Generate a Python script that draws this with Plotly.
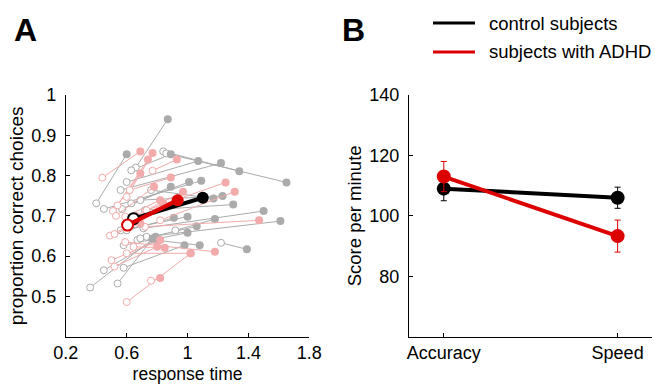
import plotly.graph_objects as go

# ---------------- Panel A data (per subject: start = open, end = filled) -------------
ctrl_rt_start = [0.40, 0.66, 0.84, 0.86, 0.60, 0.63, 0.56, 0.63, 0.45, 0.57, 0.76, 0.69, 0.72,
                 0.71, 0.73, 0.60, 0.56, 0.67, 0.92, 0.58, 0.69, 1.22, 0.58, 0.45, 0.36, 0.54]
ctrl_acc_start = [0.731, 0.820, 0.860, 0.855, 0.784, 0.813, 0.764, 0.731, 0.717, 0.717, 0.764, 0.739, 0.714,
                  0.669, 0.648, 0.664, 0.664, 0.640, 0.664, 0.627, 0.644, 0.633, 0.571, 0.565, 0.522, 0.532]
ctrl_rt_end = [0.60, 0.87, 1.34, 1.65, 1.07, 0.89, 1.22, 1.01, 1.09, 0.89, 1.17, 1.23, 1.30,
               1.50, 1.61, 0.91, 1.00, 1.06, 1.18, 1.00, 1.08, 1.39, 0.98, 0.79, 0.79, 0.77]
ctrl_acc_end = [0.853, 0.940, 0.811, 0.783, 0.836, 0.853, 0.831, 0.784, 0.787, 0.772, 0.743, 0.749, 0.728,
                0.712, 0.687, 0.695, 0.698, 0.674, 0.692, 0.658, 0.627, 0.617, 0.627, 0.640, 0.648, 0.644]

adhd_rt_start = [0.44, 0.77, 0.60, 0.54, 0.51, 0.62, 0.59, 0.73, 0.82, 0.49, 0.52, 0.72, 0.59,
                 0.60, 0.645, 0.50, 0.52, 0.60, 0.76, 0.61, 0.53, 0.66]
adhd_acc_start = [0.795, 0.812, 0.747, 0.726, 0.712, 0.764, 0.698, 0.714, 0.689, 0.651, 0.655, 0.673, 0.635,
                  0.607, 0.623, 0.590, 0.574, 0.486, 0.539, 0.673, 0.700, 0.700]
adhd_rt_end = [0.69, 0.93, 0.77, 0.74, 0.69, 0.89, 0.82, 1.25, 1.31, 0.93, 0.69, 1.47, 1.18,
               1.02, 0.85, 0.82, 0.80, 1.02, 0.82, 0.84, 0.78, 0.97]
adhd_acc_end = [0.860, 0.840, 0.856, 0.840, 0.805, 0.795, 0.739, 0.783, 0.760, 0.739, 0.681, 0.689, 0.611,
                0.607, 0.621, 0.640, 0.623, 0.607, 0.546, 0.731, 0.772, 0.760]

mean_ctrl_rt = [0.645, 1.10]
mean_ctrl_acc = [0.693, 0.745]
mean_adhd_rt = [0.606, 0.935]
mean_adhd_acc = [0.677, 0.739]

a_xticks = [0.2, 0.6, 1.0, 1.4, 1.8]
a_xticklabels = ["0.2", "0.6", "1", "1.4", "1.8"]
a_yticks = [0.5, 0.6, 0.7, 0.8, 0.9, 1.0]
a_yticklabels = ["0.5", "0.6", "0.7", "0.8", "0.9", "1"]

# ---------------- Panel B data -------------
conditions = ["Accuracy", "Speed"]
ctrl_score = [109.0, 106.0]
ctrl_err = [4.0, 3.5]
adhd_score = [113.0, 93.3]
adhd_err = [5.0, 5.3]
b_yticks = [80, 100, 120, 140]

GRAY = "#ABABAB"
PINK = "#F2AAAA"
RED = "#DD0000"
FONT = "Liberation Sans, Arial, Helvetica, sans-serif"

fig = go.Figure()


def segs(xs0, ys0, xs1, ys1):
    X, Y = [], []
    for a, b, c, d in zip(xs0, ys0, xs1, ys1):
        X += [a, c, None]
        Y += [b, d, None]
    return X, Y


for rs, as_, re_, ae, col in [
    (ctrl_rt_start, ctrl_acc_start, ctrl_rt_end, ctrl_acc_end, GRAY),
    (adhd_rt_start, adhd_acc_start, adhd_rt_end, adhd_acc_end, PINK),
]:
    X, Y = segs(rs, as_, re_, ae)
    fig.add_trace(go.Scatter(x=X, y=Y, mode="lines", line=dict(color=col, width=1),
                             showlegend=False, hoverinfo="skip", xaxis="x", yaxis="y"))
    fig.add_trace(go.Scatter(x=rs, y=as_, mode="markers",
                             marker=dict(size=7, color="white", line=dict(color=col, width=1)),
                             showlegend=False, xaxis="x", yaxis="y"))
    fig.add_trace(go.Scatter(x=re_, y=ae, mode="markers",
                             marker=dict(size=8, color=col, line=dict(width=0)),
                             showlegend=False, xaxis="x", yaxis="y"))

for rt, acc, col in [(mean_ctrl_rt, mean_ctrl_acc, "black"), (mean_adhd_rt, mean_adhd_acc, RED)]:
    fig.add_trace(go.Scatter(x=rt, y=acc, mode="lines", line=dict(color=col, width=4),
                             showlegend=False, xaxis="x", yaxis="y"))
    fig.add_trace(go.Scatter(x=rt[:1], y=acc[:1], mode="markers",
                             marker=dict(size=11, color="white", line=dict(color=col, width=2)),
                             showlegend=False, xaxis="x", yaxis="y"))
    fig.add_trace(go.Scatter(x=rt[1:], y=acc[1:], mode="markers",
                             marker=dict(size=12, color=col, line=dict(width=0)),
                             showlegend=False, xaxis="x", yaxis="y"))

# Panel B
for vals, errs, col, name in [(ctrl_score, ctrl_err, "black", "control subjects"),
                              (adhd_score, adhd_err, RED, "subjects with ADHD")]:
    fig.add_trace(go.Scatter(x=conditions, y=vals, mode="lines+markers", name=name,
                             line=dict(color=col, width=4),
                             marker=dict(size=14, color=col),
                             error_y=dict(type="data", array=errs, color=col, thickness=1, width=3),
                             showlegend=False, xaxis="x2", yaxis="y2"))

axis_common = dict(showline=True, linecolor="black", linewidth=1, ticks="inside", ticklen=4,
                   tickcolor="black", showgrid=False, zeroline=False, mirror=False, automargin=False,
                   tickfont=dict(family=FONT, size=18, color="black"))

ydom = [(384 - 336.7) / 384, (384 - 95) / 384]
fig.update_layout(
    width=655, height=384,
    margin=dict(l=0, r=0, t=0, b=0, autoexpand=False),
    paper_bgcolor="white", plot_bgcolor="white",
    font=dict(family=FONT, color="black"),
    xaxis=dict(domain=[65.8 / 655, 309.3 / 655], range=[0.2, 1.8], tickvals=a_xticks,
               ticktext=a_xticklabels, anchor="y", ticklabelstandoff=0,
               title=dict(text="response time", font=dict(family=FONT, size=17.5), standoff=5),
               **axis_common),
    yaxis=dict(domain=ydom, range=[0.4, 1.0], tickvals=a_yticks, ticktext=a_yticklabels,
               anchor="x", ticklabelstandoff=5,
               title=dict(text="proportion correct choices", font=dict(family=FONT, size=19), standoff=2),
               **axis_common),
    xaxis2=dict(domain=[409 / 655, 651.7 / 655], type="category", range=[-0.2, 1.196],
                anchor="y2", ticklabelstandoff=0, **axis_common),
    yaxis2=dict(domain=ydom, range=[60, 140], tickvals=b_yticks, anchor="x2", ticklabelstandoff=5,
                title=dict(text="Score per minute", font=dict(family=FONT, size=18.5), standoff=2),
                **axis_common),
    showlegend=False,
)

# legend (drawn manually to match layout)
fig.add_shape(type="line", xref="paper", yref="paper", x0=433 / 655, x1=475 / 655,
              y0=1 - 23 / 384, y1=1 - 23 / 384, line=dict(color="black", width=3))
fig.add_shape(type="line", xref="paper", yref="paper", x0=433 / 655, x1=475 / 655,
              y0=1 - 52 / 384, y1=1 - 52 / 384, line=dict(color=RED, width=3))
fig.add_annotation(x=487 / 655, y=1 - 23 / 384, xref="paper", yref="paper", text="control subjects",
                   showarrow=False, xanchor="left", yanchor="middle", font=dict(family=FONT, size=18.5))
fig.add_annotation(x=487 / 655, y=1 - 52 / 384, xref="paper", yref="paper", text="subjects with ADHD",
                   showarrow=False, xanchor="left", yanchor="middle", font=dict(family=FONT, size=18.5))

fig.add_annotation(x=25 / 655, y=1 - 30 / 384, xref="paper", yref="paper", text="<b>A</b>",
                   showarrow=False, xanchor="center", yanchor="middle", font=dict(family=FONT, size=32))
fig.add_annotation(x=354 / 655, y=1 - 30 / 384, xref="paper", yref="paper", text="<b>B</b>",
                   showarrow=False, xanchor="center", yanchor="middle", font=dict(family=FONT, size=32))

fig.write_html("out.html", config={"displayModeBar": False},
               post_script="document.body.style.margin='0px';")
